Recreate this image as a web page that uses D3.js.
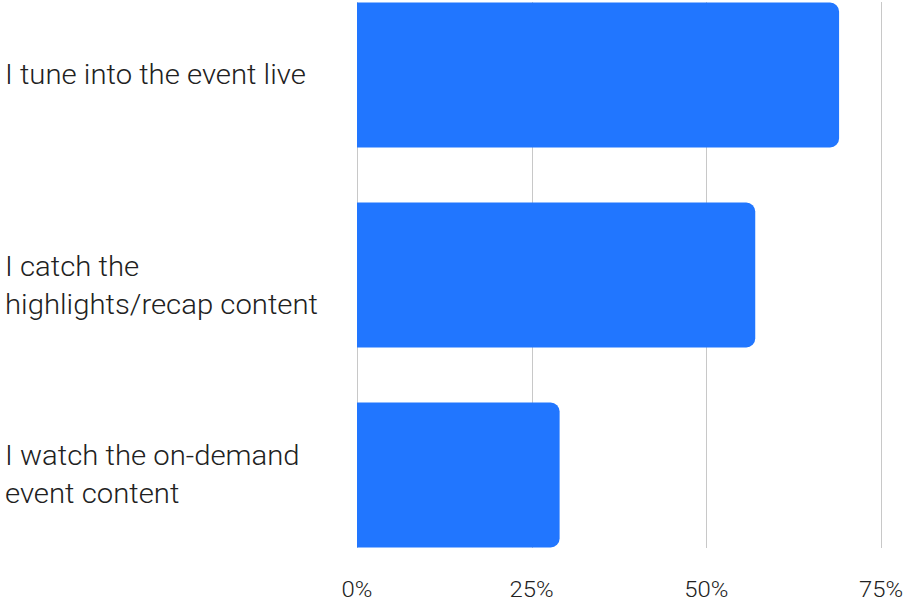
<!DOCTYPE html>
<html>
<head>
<meta charset="utf-8">
<script src="https://cdn.jsdelivr.net/npm/d3@7"></script>
<style>
  html, body { margin: 0; padding: 0; background: #fff; }
  svg { display: block; font-family: Roboto, "Noto Sans", sans-serif; }
</style>
</head>
<body>
<svg id="chart" width="906" height="605"></svg>
<script>
// Viewing habits for the event (share of respondents, %)
const categories = [
  ["I tune into the event live"],
  ["I catch the", "highlights/recap content"],
  ["I watch the on-demand", "event content"]
];
const values = [69, 57, 29];
const tickValues = [0, 25, 50, 75];
const tickLabels = ["0%", "25%", "50%", "75%"];

const svg = d3.select("#chart");

const x = d3.scaleLinear().domain([0, 75]).range([357, 881]);
const y = d3.scaleBand()
  .domain(d3.range(values.length))
  .range([2.5, 547.5])
  .paddingInner(0.275)
  .paddingOuter(0);

// slightly widened glyphs
const stretch = 1.085;

// vertical gridlines
svg.append("g")
  .selectAll("line")
  .data(tickValues)
  .join("line")
  .attr("x1", d => Math.round(x(d)) + 0.5)
  .attr("x2", d => Math.round(x(d)) + 0.5)
  .attr("y1", 2)
  .attr("y2", 548)
  .attr("stroke", "#c8c8c8")
  .attr("stroke-width", 1);

// bars, rounded on the value end only
function barPath(x0, x1, y0, h, r) {
  r = Math.min(r, (x1 - x0), h / 2);
  return `M${x0},${y0}H${x1 - r}A${r},${r} 0 0 1 ${x1},${y0 + r}` +
         `V${y0 + h - r}A${r},${r} 0 0 1 ${x1 - r},${y0 + h}H${x0}Z`;
}
svg.append("g")
  .selectAll("path")
  .data(values)
  .join("path")
  .attr("d", (d, i) => barPath(x(0), x(d), y(i), y.bandwidth(), 9))
  .attr("fill", "#2176ff");

// x-axis tick labels
svg.append("g")
  .selectAll("text")
  .data(tickValues)
  .join("text")
  .attr("transform", d => `translate(${x(d)},597) scale(${stretch},1)`)
  .attr("text-anchor", "middle")
  .attr("font-size", 22)
  .attr("font-weight", 300)
  .attr("fill", "#212121")
  .text((d, i) => tickLabels[i]);

// category labels
const lineH = 38, capMid = 9.5;
const extraDrop = [0, 11, 0];
const lab = svg.append("g");
categories.forEach((lines, i) => {
  const cy = y(i) + y.bandwidth() / 2;
  const first = cy - (lines.length - 1) * lineH / 2 + capMid + extraDrop[i];
  lab.append("text")
    .attr("transform", `translate(5,0) scale(${stretch},1)`)
    .attr("font-size", 27)
    .attr("font-weight", 300)
    .attr("fill", "#212121")
    .selectAll("tspan")
    .data(lines)
    .join("tspan")
    .attr("x", 0)
    .attr("y", (d, k) => first + k * lineH)
    .text(d => d);
});
</script>
</body>
</html>
